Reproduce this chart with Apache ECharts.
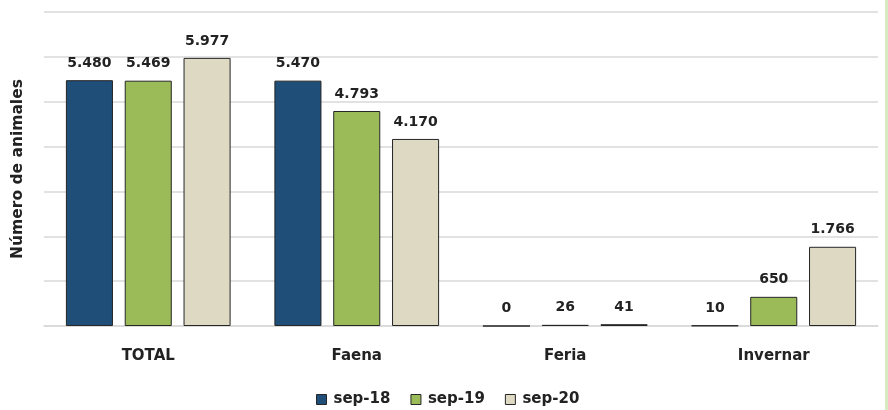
<!DOCTYPE html>
<html><head><meta charset="utf-8">
<script src="https://cdn.jsdelivr.net/npm/echarts@6/dist/echarts.min.js"></script>
<style>html,body{margin:0;padding:0;background:#fff}#c{width:888px;height:410px}
#edge{position:absolute;left:885px;top:0;width:3px;height:410px;background:#d6ebc1}</style>
</head><body><div id="c"></div><div id="edge"></div>
<script>
const categories = ['TOTAL', 'Faena', 'Feria', 'Invernar'];
const sep18 = [5480, 5470, 0, 10];
const sep19 = [5469, 4793, 26, 650];
const sep20 = [5977, 4170, 41, 1766];
const seriesNames = ['sep-18', 'sep-19', 'sep-20'];
const colors = ['#1f4e79', '#9bbb59', '#ddd9c3'];

const FONT = '"DejaVu Sans", sans-serif';
function fmt(v){ return String(v).replace(/\B(?=(\d{3})+(?!\d))/g, '.'); }

const chart = echarts.init(document.getElementById('c'));
const mk = (name, data, i) => ({
  name, type: 'bar', data,
  barGap: '25%', barCategoryGap: '21%',
  itemStyle: { color: colors[i], borderColor: '#262626', borderWidth: 1 },
  label: { show: true, position: 'top', distance: 10, formatter: p => fmt(p.value),
    fontFamily: FONT, fontWeight: 'bold', fontSize: 14, color: '#222' }
});
chart.setOption({
  animation: false,
  textStyle: { fontFamily: FONT },
  grid: { left: 44, right: 10, top: 12, bottom: 84 },
  legend: {
    top: 387, left: 311, itemWidth: 10, itemHeight: 10, itemGap: 20,
    icon: 'rect',
    data: seriesNames.map((n, i) => ({ name: n, itemStyle: { color: colors[i], borderColor: '#262626', borderWidth: 1 } })),
    textStyle: { fontFamily: FONT, fontWeight: 'bold', fontSize: 15, color: '#222', padding: [0,0,0,2] }
  },
  xAxis: {
    type: 'category', data: categories,
    axisLine: { lineStyle: { color: '#d9d9d9', width: 1.5 } },
    axisTick: { show: false },
    axisLabel: { margin: 23, fontFamily: FONT, fontWeight: 'bold', fontSize: 15, color: '#222' }
  },
  yAxis: {
    type: 'value', min: 0, max: 7000, interval: 1000,
    name: 'Número de animales', nameLocation: 'middle', nameGap: 18, nameRotate: 90,
    nameTextStyle: { fontFamily: FONT, fontWeight: 'bold', fontSize: 15.5, color: '#222' },
    axisLabel: { show: false }, axisLine: { show: false }, axisTick: { show: false },
    splitLine: { lineStyle: { color: '#d9d9d9', width: 1.5 } }
  },
  series: [mk(seriesNames[0], sep18, 0), mk(seriesNames[1], sep19, 1), mk(seriesNames[2], sep20, 2)]
});
</script></body></html>
